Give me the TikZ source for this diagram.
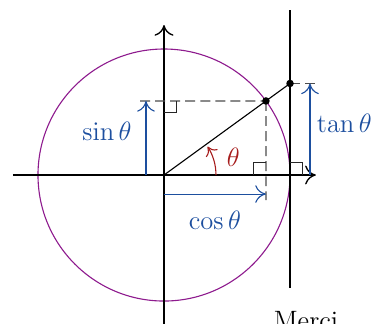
\documentclass[tikz,border=0pt]{standalone}
\usepackage{amsmath,amssymb}
\usepackage{xcolor}
\usepackage{tikz}
\usetikzlibrary{calc,arrows.meta}
\definecolor{trigc}{HTML}{1D4F9F}
\definecolor{anglec}{HTML}{A61C1C}
\definecolor{circc}{HTML}{8E1B8E}
\tikzset{
  axis/.style={-{To[length=1.7mm,width=3mm]},semithick},
  ar/.style={-{To[length=1.7mm,width=2.8mm]},line width=0.5pt,trigc},
  dsh/.style={dash pattern=on 4.5pt off 2.3pt,line width=0.5pt,black!70},
  rmark/.style={line width=0.5pt,black!85},
  lbl/.style={font=\large,inner sep=0pt}
}

\begin{document}
\begin{tikzpicture}
\useasboundingbox (-2.603,-2.349) rectangle (3.333,2.778);
\coordinate (O) at (0,0);
\coordinate (P) at (36:2);
\coordinate (T) at (2,1.4531);
\draw[circc,line width=0.5pt] (O) circle (2);
\draw[axis] (-2.4,0) -- (2.41,0);
\draw[axis] (0,-2.5) -- (0,2.38);
\draw[line width=0.5pt] (2,-1.79) -- (2,2.62);
\draw[line width=0.5pt] (O) -- (T);
% projections
\draw[dsh] (-0.38,1.1756) -- (P);
\draw[dsh] (P) -- (1.618,-0.40);
\draw[dsh] (T) -- (2.41,1.4531);
\draw[rmark] (0,0.9856) -- (0.2,0.9856) -- (0.2,1.1756);
\draw[rmark] (1.418,0) -- (1.418,0.2) -- (1.618,0.2);
\draw[rmark] (2,0.2) -- (2.2,0.2) -- (2.2,0);
% sin, cos, tan
\draw[ar] (-0.286,0) -- (-0.286,1.1756) node[lbl,midway,left=0.22cm,yshift=1mm] (sinl) {$\sin\theta$};
\draw[ar] (0,-0.302) -- (1.618,-0.302) node[lbl,midway,below=0.26cm] (cosl) {$\cos\theta$};
\draw[ar] (2.317,0) -- (2.317,1.4531) node[lbl,midway,right=0.1cm,yshift=1mm] (tanl) {$\tan\theta$};
% angle
\draw[-{To[length=1.3mm,width=2.2mm]},line width=0.5pt,anglec] (0.825,0) arc (0:33:0.825);
\node[lbl,anglec] (thl) at (1.1,0.28) {$\theta$};
\fill (P) circle (1.7pt) (T) circle (1.7pt);
\node[lbl,anchor=north] (merci) at (2.254,-2.16) {Merci};
\end{tikzpicture}
\end{document}
